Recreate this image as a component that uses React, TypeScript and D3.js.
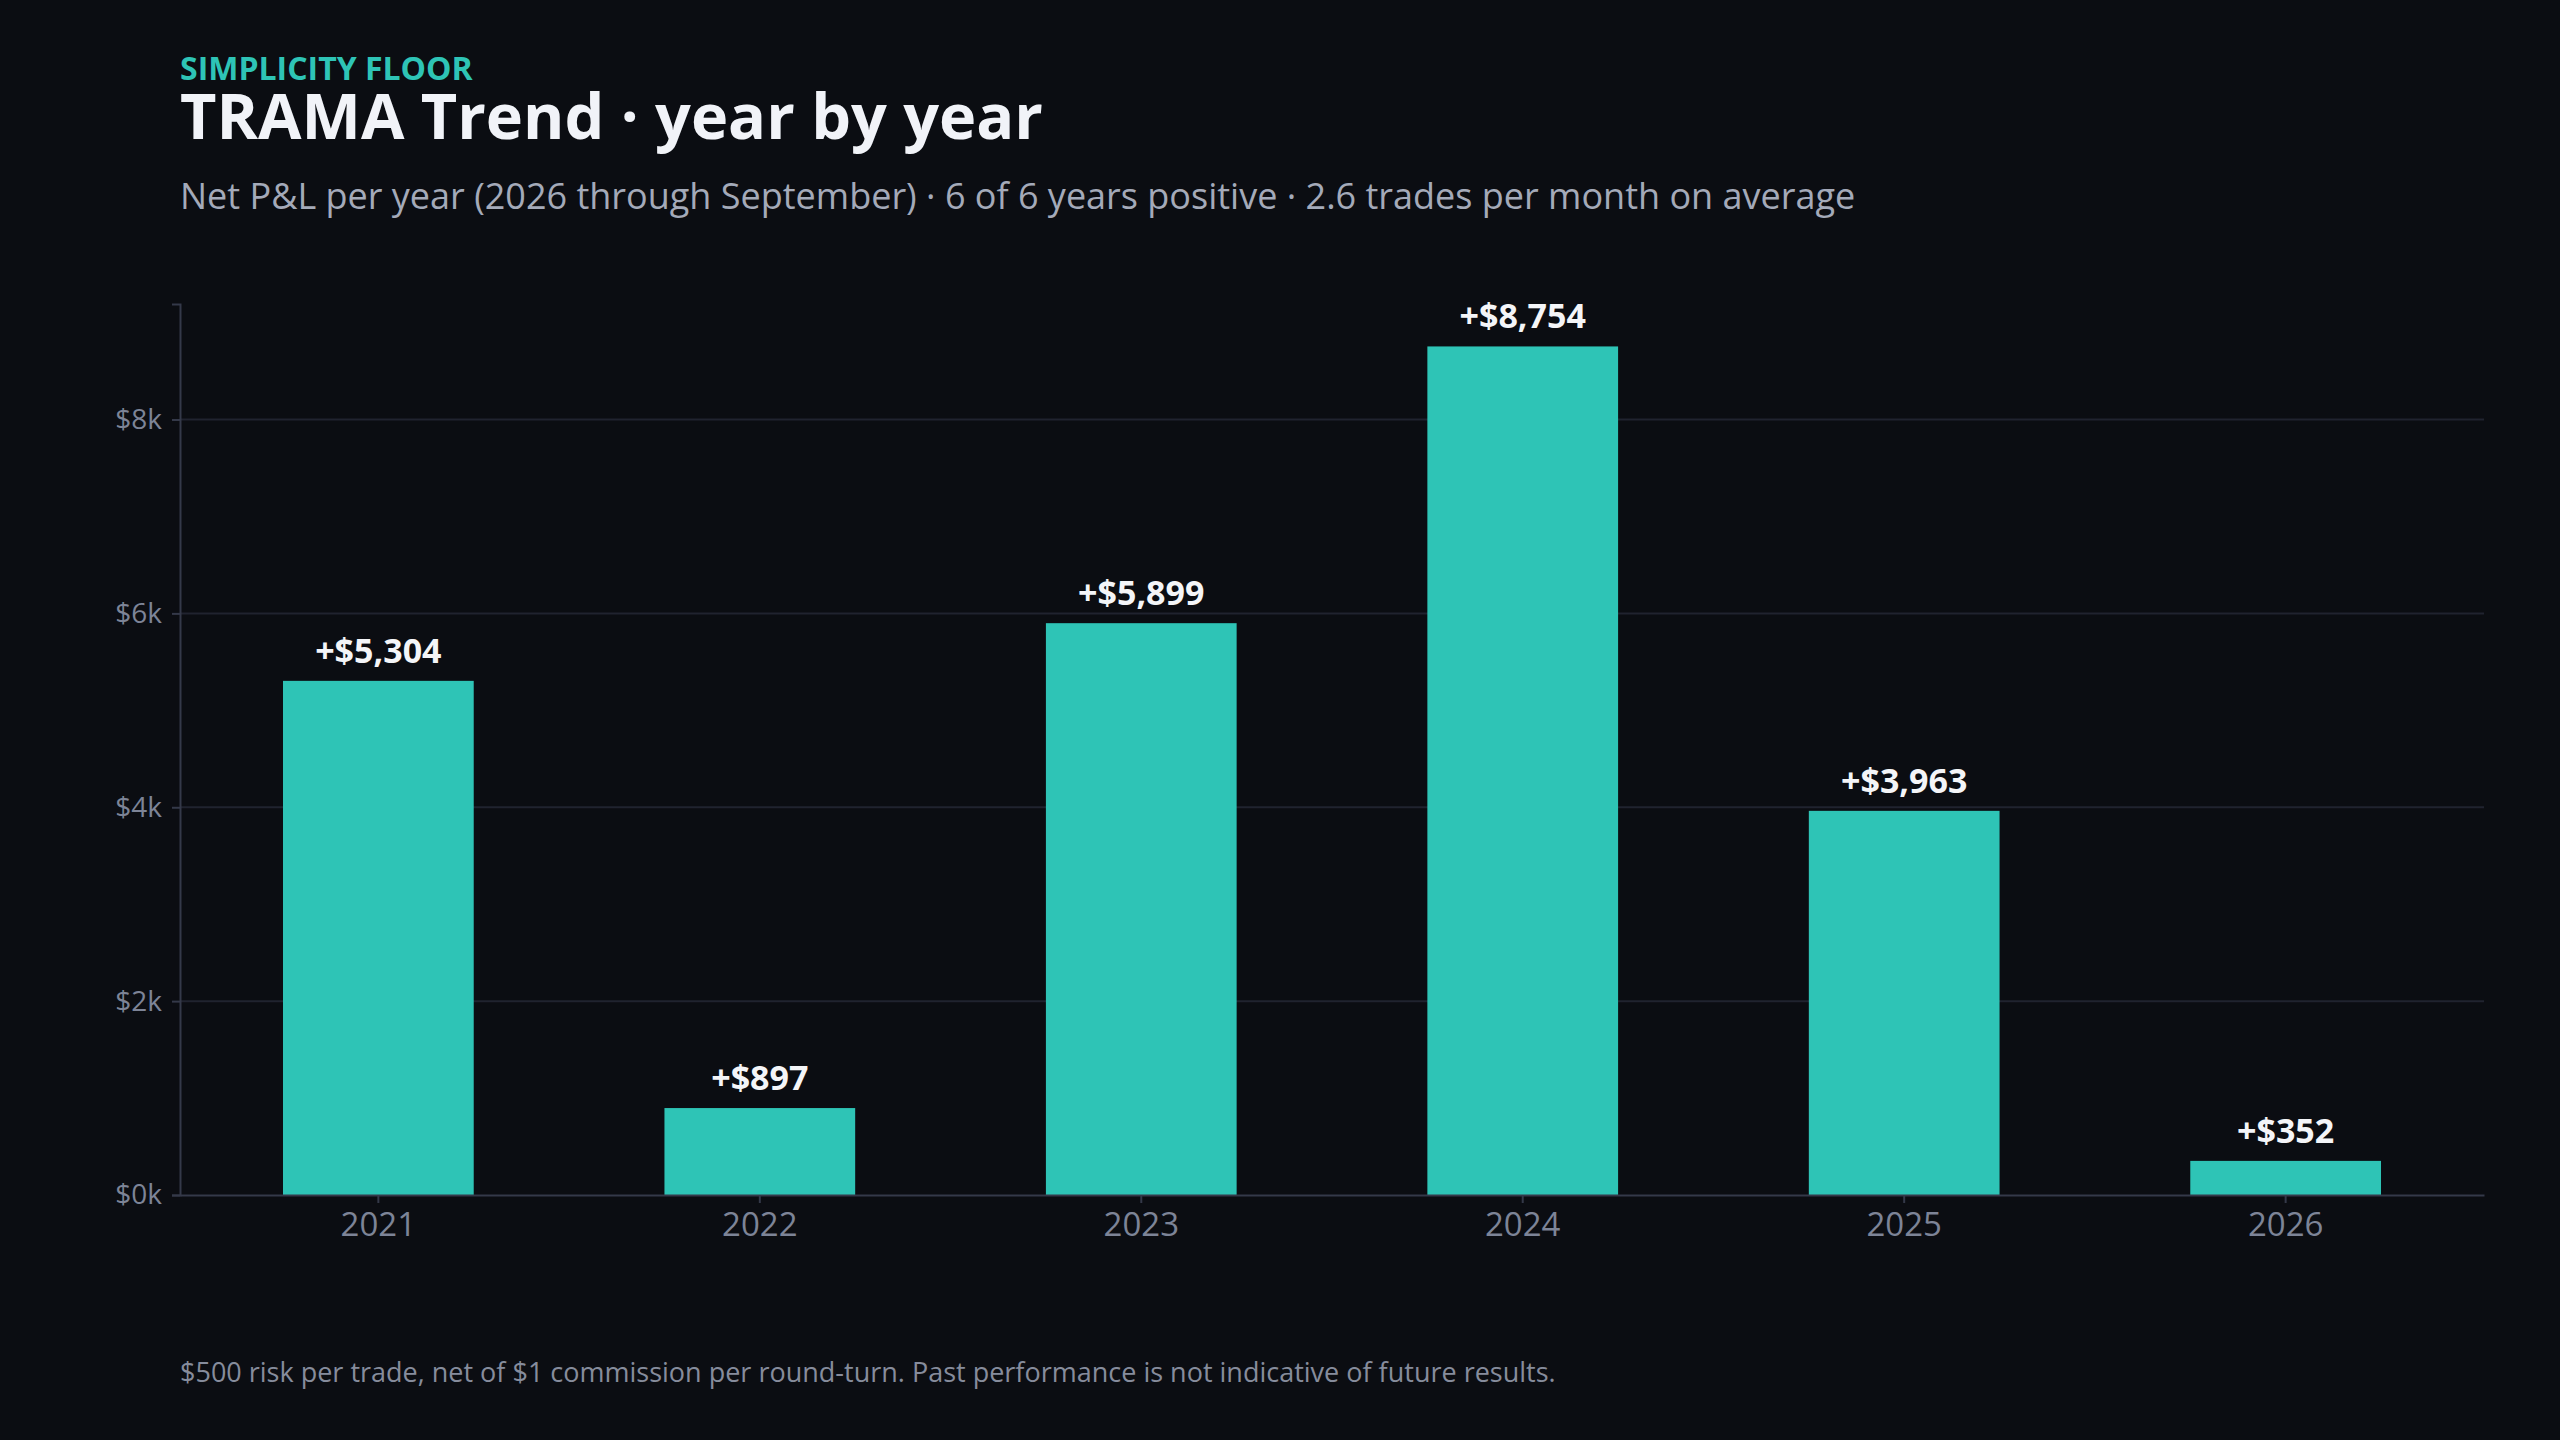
import { useEffect, useRef } from 'react';
import * as d3 from 'd3';

const YEARS = ['2021', '2022', '2023', '2024', '2025', '2026'];
const NET_PNL = [5304, 897, 5899, 8754, 3963, 352];
const Y_TICKS = [0, 2000, 4000, 6000, 8000];

const COLORS = {
  bg: '#0b0d12',
  bar: '#2ec4b6',
  eyebrow: '#2ec4b6',
  title: '#f1f3f8',
  subtitle: '#a4aab9',
  tick: '#7d8497',
  grid: '#20232f',
  axis: '#343949',
  label: '#f4f5f8',
  footer: '#868c9c',
};

const FONT = '"Open Sans", "Noto Sans", sans-serif';
const WIDTH = 2560;
const HEIGHT = 1440;

export default function App() {
  const svgRef = useRef<SVGSVGElement>(null);

  useEffect(() => {
    if (!svgRef.current) return;
    const svg = d3.select(svgRef.current);
    svg.selectAll('*').remove();

    const margin = { top: 304, right: 76, bottom: 245, left: 180 };
    const innerWidth = WIDTH - margin.left - margin.right;
    const innerHeight = HEIGHT - margin.top - margin.bottom;

    svg.append('rect')
      .attr('width', WIDTH)
      .attr('height', HEIGHT)
      .attr('fill', COLORS.bg);

    const x = d3.scaleBand()
      .domain(YEARS)
      .range([0, innerWidth])
      .paddingInner(0.5)
      .paddingOuter(0.27);

    const y = d3.scaleLinear()
      .domain([0, d3.max(NET_PNL)! * 1.05])
      .range([innerHeight, 0]);

    const g = svg.append('g')
      .attr('transform', `translate(${margin.left},${margin.top})`);

    // gridlines
    g.append('g')
      .selectAll('line')
      .data(Y_TICKS.filter(d => d > 0))
      .join('line')
      .attr('x1', 0)
      .attr('x2', innerWidth)
      .attr('y1', d => y(d))
      .attr('y2', d => y(d))
      .attr('stroke', COLORS.grid)
      .attr('stroke-width', 2);

    // bars
    g.append('g')
      .selectAll('rect')
      .data(YEARS)
      .join('rect')
      .attr('x', d => x(d)!)
      .attr('y', (_, i) => y(NET_PNL[i]))
      .attr('width', x.bandwidth())
      .attr('height', (_, i) => innerHeight - y(NET_PNL[i]))
      .attr('fill', COLORS.bar);

    // value labels
    g.append('g')
      .selectAll('text')
      .data(YEARS)
      .join('text')
      .attr('x', d => x(d)! + x.bandwidth() / 2)
      .attr('y', (_, i) => y(NET_PNL[i]) - 18)
      .attr('text-anchor', 'middle')
      .attr('font-family', FONT)
      .attr('font-size', 34)
      .attr('font-weight', 700)
      .attr('fill', COLORS.label)
      .text((_, i) => `+$${d3.format(',')(NET_PNL[i])}`);

    // y axis
    const yAxis = g.append('g')
      .call(d3.axisLeft(y).tickValues(Y_TICKS).tickSize(8).tickPadding(10)
        .tickFormat(d => `$${(+d) / 1000}k`));
    yAxis.select('.domain').attr('stroke', COLORS.axis).attr('stroke-width', 2);
    yAxis.selectAll('.tick line').attr('stroke', COLORS.axis).attr('stroke-width', 2);
    yAxis.selectAll('.tick text')
      .attr('font-family', FONT)
      .attr('font-size', 28)
      .attr('fill', COLORS.tick);

    // x axis
    const xAxis = g.append('g')
      .attr('transform', `translate(0,${innerHeight})`)
      .call(d3.axisBottom(x).tickSize(8).tickPadding(10).tickSizeOuter(0));
    xAxis.select('.domain').attr('stroke', COLORS.axis).attr('stroke-width', 2);
    xAxis.selectAll('.tick line').attr('stroke', COLORS.axis).attr('stroke-width', 2);
    xAxis.selectAll('.tick text')
      .attr('font-family', FONT)
      .attr('font-size', 33)
      .attr('fill', COLORS.tick);

    // header
    svg.append('text')
      .attr('x', margin.left)
      .attr('y', 80)
      .attr('font-family', FONT)
      .attr('font-size', 32)
      .attr('font-weight', 700)
      .attr('fill', COLORS.eyebrow)
      .text('SIMPLICITY FLOOR');

    svg.append('text')
      .attr('x', margin.left)
      .attr('y', 139)
      .attr('font-family', FONT)
      .attr('font-size', 63)
      .attr('font-weight', 700)
      .attr('fill', COLORS.title)
      .text('TRAMA Trend · year by year');

    svg.append('text')
      .attr('x', margin.left)
      .attr('y', 209)
      .attr('font-family', FONT)
      .attr('font-size', 36)
      .attr('fill', COLORS.subtitle)
      .text('Net P&L per year (2026 through September) · 6 of 6 years positive · 2.6 trades per month on average');

    // footer
    svg.append('text')
      .attr('x', margin.left)
      .attr('y', 1382)
      .attr('font-family', FONT)
      .attr('font-size', 27)
      .attr('fill', COLORS.footer)
      .text('$500 risk per trade, net of $1 commission per round-turn. Past performance is not indicative of future results.');
  }, []);

  return (
    <div style={{ position: 'fixed', left: 0, top: 0, width: WIDTH, height: HEIGHT, background: COLORS.bg }}>
      <svg
        ref={svgRef}
        width={WIDTH}
        height={HEIGHT}
        role="img"
        aria-label="Bar chart of TRAMA Trend net P&L per year, 2021 to 2026"
      />
    </div>
  );
}
